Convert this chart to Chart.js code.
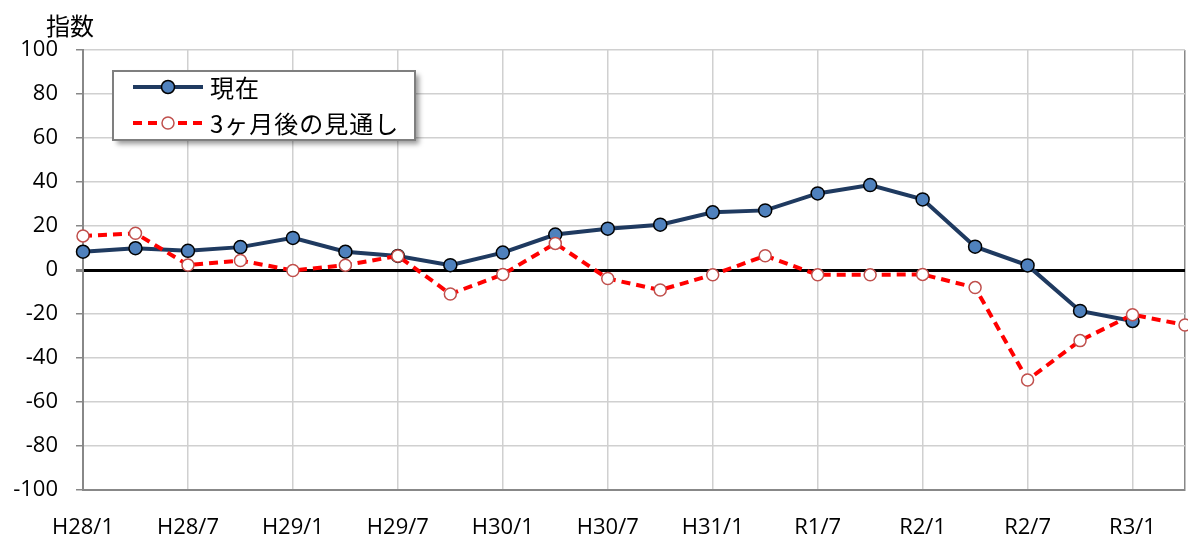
<!DOCTYPE html>
<html>
<head>
<meta charset="utf-8">
<script src="https://cdn.jsdelivr.net/npm/chart.js@4.4.0/dist/chart.umd.min.js"></script>
<style>
  body { margin: 0; background: #fff; overflow: hidden; }
  #wrap { position: relative; width: 1188px; height: 538px; }
  #chart { display: block; }
  #unit { position: absolute; left: 46px; top: 7px; font: 24px 'Noto Sans CJK JP', sans-serif; color: #000; }
</style>
</head>
<body>
<div id="wrap">
  <canvas id="chart" width="1188" height="538"></canvas>
  <div id="unit">指数</div>
</div>
<script>
// quarterly survey, H28/1 .. R3/4
const categories = ['H28/1', 'H28/4', 'H28/7', 'H28/10', 'H29/1', 'H29/4', 'H29/7', 'H29/10',
  'H30/1', 'H30/4', 'H30/7', 'H30/10', 'H31/1', 'H31/4', 'R1/7', 'R1/10',
  'R2/1', 'R2/4', 'R2/7', 'R2/10', 'R3/1', 'R3/4'];
const shownLabels = ['H28/1', 'H28/7', 'H29/1', 'H29/7', 'H30/1', 'H30/7', 'H31/1', 'R1/7', 'R2/1', 'R2/7', 'R3/1'];

const seriesNames = ['現在', '3ヶ月後の見通し'];
const current = [8.3, 9.9, 8.7, 10.4, 14.6, 8.3, 6.4, 2.2, 7.9, 16.1, 18.8, 20.6,
  26.2, 27.1, 34.8, 38.6, 32.1, 10.6, 2.1, -18.6, -23.2, null];
const outlook = [15.5, 16.7, 2.3, 4.3, -0.2, 2.2, 6.4, -10.9, -2.0, 12.1, -3.9, -9.1,
  -2.2, 6.5, -2.2, -2.2, -2.0, -8.0, -50.0, -32.1, -20.3, -25.0];

const yMin = -100, yMax = 100, yStep = 20;

const tickFont = { family: "'Open Sans', 'Noto Sans CJK JP', sans-serif", size: 22 };

// legend box drawn inside the plot, like the original
const legendBox = {
  id: 'legendBox',
  afterDraw(chart) {
    const ctx = chart.ctx;
    const x = chart.chartArea.left + 30, y = chart.chartArea.top + 21;
    const w = 302, h = 69;
    ctx.save();
    ctx.shadowColor = 'rgba(0,0,0,0.4)';
    ctx.shadowBlur = 5;
    ctx.shadowOffsetX = 4;
    ctx.shadowOffsetY = 4;
    ctx.fillStyle = '#fff';
    ctx.fillRect(x, y, w, h);
    ctx.shadowColor = 'transparent';
    ctx.strokeStyle = '#7F7F7F';
    ctx.lineWidth = 2;
    ctx.strokeRect(x, y, w, h);

    chart.data.datasets.forEach((ds, i) => {
      const ly = y + 16 + i * 36;
      ctx.beginPath();
      ctx.setLineDash(ds.borderDash || []);
      ctx.strokeStyle = ds.borderColor;
      ctx.lineWidth = ds.borderWidth;
      ctx.moveTo(x + 20, ly);
      ctx.lineTo(x + 90, ly);
      ctx.stroke();
      ctx.setLineDash([]);
      ctx.beginPath();
      ctx.arc(x + 55, ly, ds.pointRadius, 0, Math.PI * 2);
      ctx.fillStyle = ds.pointBackgroundColor;
      ctx.fill();
      ctx.strokeStyle = ds.pointBorderColor;
      ctx.lineWidth = ds.pointBorderWidth;
      ctx.stroke();
      ctx.fillStyle = '#000';
      ctx.font = "24px 'Noto Sans CJK JP', sans-serif";
      ctx.letterSpacing = '1px';
      ctx.textBaseline = 'middle';
      ctx.fillText(ds.label, x + 97, ly + 1);
      ctx.letterSpacing = '0px';
    });
    ctx.restore();
  }
};

new Chart(document.getElementById('chart'), {
  type: 'line',
  data: {
    labels: categories,
    datasets: [
      {
        label: seriesNames[0],
        data: current,
        order: 1,
        borderColor: '#1F3A60',
        borderWidth: 4,
        pointRadius: 6.5,
        pointBackgroundColor: '#4F81BD',
        pointBorderColor: '#000',
        pointBorderWidth: 1.5,
        tension: 0
      },
      {
        label: seriesNames[1],
        data: outlook,
        order: 0,
        borderColor: '#FF0000',
        borderWidth: 4,
        borderDash: [9, 6],
        pointRadius: 6,
        pointBackgroundColor: '#FFFFFF',
        pointBorderColor: '#C0504D',
        pointBorderWidth: 1.5,
        tension: 0
      }
    ]
  },
  options: {
    responsive: false,
    animation: false,
    layout: { autoPadding: false, padding: { top: 50, right: 3, left: 0, bottom: 0 } },
    plugins: {
      legend: { display: false },
      tooltip: { enabled: false }
    },
    scales: {
      x: {
        offset: false,
        border: { color: '#888', width: 2 },
        grid: {
          drawTicks: false,
          lineWidth: 1.5,
          color: (c) => {
            if (c.index === categories.length - 1) return '#888';
            return shownLabels.includes(categories[c.index]) ? '#D0D0D0' : 'rgba(0,0,0,0)';
          }
        },
        ticks: {
          autoSkip: false,
          maxRotation: 0,
          padding: 25,
          color: '#000',
          font: tickFont,
          callback: function (v, i) {
            const lab = categories[i];
            return shownLabels.includes(lab) ? lab : '';
          }
        },
        afterFit: (s) => {
          s.height = 48;
          s.paddingLeft = 0;
          s.paddingRight = 0;
        }
      },
      y: {
        min: yMin,
        max: yMax,
        border: { color: '#888', width: 2 },
        grid: {
          tickLength: 7,
          tickColor: '#888',
          lineWidth: (c) => (c.tick && c.tick.value === 0 ? 3 : 1.5),
          color: (c) => (c.tick && c.tick.value === 0 ? '#000' : '#D0D0D0')
        },
        ticks: {
          stepSize: yStep,
          padding: 18,
          color: '#000',
          font: tickFont
        },
        afterFit: (s) => { s.width = 83; }
      }
    }
  },
  plugins: [legendBox]
});
</script>
</body>
</html>
